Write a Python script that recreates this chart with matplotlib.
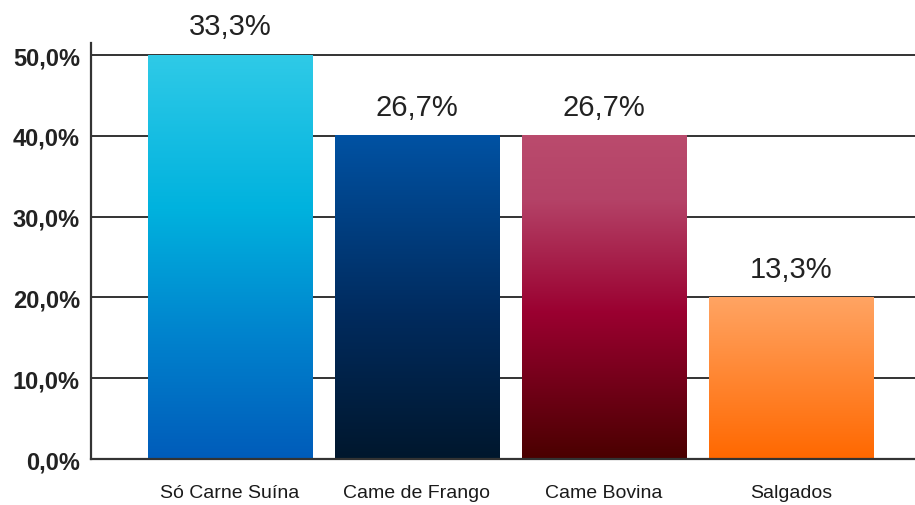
import numpy as np
import matplotlib
matplotlib.use("Agg")
import matplotlib.pyplot as plt
from matplotlib.colors import LinearSegmentedColormap

categories = ["Só Carne Suína", "Came de Frango", "Came Bovina", "Salgados"]
bar_heights = [50.0, 40.0, 40.0, 20.0]          # as drawn against the axis
bar_labels = ["33,3%", "26,7%", "26,7%", "13,3%"]  # printed above the bars
y_ticks = [0, 10, 20, 30, 40, 50]

# gradient stops, bottom -> top
gradients = [
    [(0.0, "#005CBA"), (0.3, "#0082CD"), (0.62, "#00B2DE"), (1.0, "#2FCAE7")],
    [(0.0, "#00172D"), (0.45, "#002B5E"), (1.0, "#0052A3")],
    [(0.0, "#4A0000"), (0.45, "#9A0030"), (0.8, "#B44267"), (1.0, "#BA4B6D")],
    [(0.0, "#FF6800"), (1.0, "#FFA463")],
]

plt.rcParams["font.family"] = ["Liberation Sans", "DejaVu Sans"]

fig = plt.figure(figsize=(9.15, 5.06), dpi=100)
ax = fig.add_axes([0.0995, 0.0909, 0.9005, 0.822])

x = np.arange(len(categories))
bars = ax.bar(x, bar_heights, width=0.877, color="none", zorder=3)

grad = np.linspace(0, 1, 256).reshape(-1, 1)
for b, stops in zip(bars, gradients):
    cmap = LinearSegmentedColormap.from_list("g", stops)
    x0, w, h = b.get_x(), b.get_width(), b.get_height()
    ax.imshow(grad, cmap=cmap, origin="lower", aspect="auto",
              extent=(x0, x0 + w, 0, h), zorder=3, interpolation="bilinear")

for b, lab in zip(bars, bar_labels):
    ax.annotate(lab, (b.get_x() + b.get_width() / 2, b.get_height()),
                xytext=(0, 15), textcoords="offset points",
                ha="center", va="baseline", fontsize=21, color="#222222")

ax.set_xlim(-0.743, 3.663)
ax.set_ylim(0, 51.5)
ax.set_yticks(y_ticks)
ax.set_yticklabels([f"{v:.1f}%".replace(".", ",") for v in y_ticks],
                   fontsize=17, fontweight="bold", color="#222222")
ax.set_xticks(x)
ax.set_xticklabels(categories, fontsize=14, color="#1a1a1a")
ax.tick_params(axis="y", length=0, pad=8)
ax.tick_params(axis="x", length=0, pad=18)

ax.grid(axis="y", color="#333333", linewidth=1.4, zorder=0)
ax.set_axisbelow(True)
for s in ["top", "right"]:
    ax.spines[s].set_visible(False)
for s in ["left", "bottom"]:
    ax.spines[s].set_color("#333333")
    ax.spines[s].set_linewidth(1.6)
    ax.spines[s].set_zorder(4)

fig.savefig("out.png", dpi=100)
